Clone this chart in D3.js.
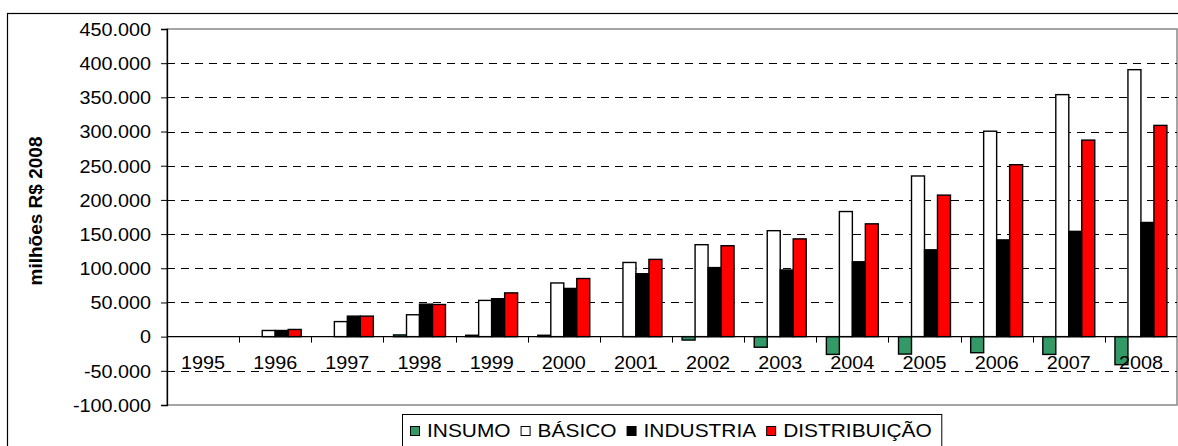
<!DOCTYPE html>
<html>
<head>
<meta charset="utf-8">
<script src="https://cdn.jsdelivr.net/npm/d3@7/dist/d3.min.js"></script>
<style>
  html, body { margin: 0; padding: 0; background: #fff; }
  svg { display: block; font-family: Arial, "Liberation Sans", sans-serif; }
</style>
</head>
<body>
<svg id="chart" width="1178" height="446"></svg>
<script>
// ---- data ----
const years = ["1995","1996","1997","1998","1999","2000","2001","2002","2003","2004","2005","2006","2007","2008"];
const seriesNames = ["INSUMO", "BÁSICO", "INDUSTRIA", "DISTRIBUIÇÃO"];
const insumo       = [0, 0, 0, 2500, 2000, 2000, 0, -5000, -15500, -26000, -25500, -23500, -26000, -41000];
const basico       = [0, 9000, 22000, 32000, 53000, 78500, 108500, 134500, 155000, 183000, 235000, 300500, 354000, 390500];
const industria    = [0, 9000, 30000, 47500, 55500, 70500, 92000, 101000, 97500, 109500, 127000, 141500, 154000, 167000];
const distribuicao = [0, 10500, 30000, 47000, 64000, 85000, 113000, 133000, 143000, 165000, 207000, 251500, 287500, 309000];
const yTicks = [-100000, -50000, 0, 50000, 100000, 150000, 200000, 250000, 300000, 350000, 400000, 450000];
const colors = ["#339966", "#FFFFFF", "#000000", "#FF0000"];

const seriesValues = [insumo, basico, industria, distribuicao];

// ---- layout ----
const svg = d3.select("#chart");
const plot = { left: 167, right: 1177, top: 29, bottom: 405 };
const FS = 18, SX = 1.1; // font size and horizontal stretch of the source image

const fmt = v => d3.format(",")(v).replace(/,/g, ".").replace("−", "-");

const y = d3.scaleLinear().domain([-100000, 450000]).range([plot.bottom, plot.top]);
const x0 = d3.scaleBand().domain(years).range([plot.left, plot.right]).padding(0);
const bw = x0.bandwidth();
const x1 = d3.scaleBand().domain(seriesNames).range([bw * 0.14, bw * 0.86]).padding(0);

// outer chart border
svg.append("rect").attr("x", 7.5).attr("y", 13.5).attr("width", 1200).attr("height", 500)
  .attr("fill", "none").attr("stroke", "#000").attr("stroke-width", 1.2);

// plot area border (gray)
svg.append("rect")
  .attr("x", plot.left).attr("y", plot.top)
  .attr("width", plot.right - plot.left).attr("height", plot.bottom - plot.top)
  .attr("fill", "none").attr("stroke", "#888").attr("stroke-width", 1.5);

// gridlines
const gridTicks = yTicks.filter(t => t !== 0 && t !== 450000 && t !== -100000);
svg.append("g").selectAll("line").data(gridTicks).join("line")
  .attr("x1", plot.left).attr("x2", plot.right)
  .attr("y1", d => Math.round(y(d)) + 0.5).attr("y2", d => Math.round(y(d)) + 0.5)
  .attr("stroke", "#000").attr("stroke-width", 1)
  .attr("stroke-dasharray", "8,6");

// y axis
const yAxis = d3.axisLeft(y).tickValues(yTicks).tickSize(6).tickPadding(10).tickFormat(fmt);
const gy = svg.append("g").attr("transform", `translate(${plot.left},0)`).call(yAxis);
gy.select(".domain").attr("stroke", "#000").attr("stroke-width", 1.3);
gy.selectAll(".tick line").attr("stroke", "#000");
gy.selectAll(".tick text")
  .attr("font-size", FS).attr("fill", "#000")
  .attr("font-family", "Arial, 'Liberation Sans', sans-serif")
  .attr("x", 0).attr("dy", "0.35em")
  .attr("transform", `translate(-16,0) scale(${SX},1)`);

// bars
const groups = svg.append("g").selectAll("g").data(years).join("g")
  .attr("transform", d => `translate(${x0(d)},0)`);
groups.selectAll("rect")
  .data((yr, i) => seriesNames.map((s, k) => ({ s, k, v: seriesValues[k][i] })))
  .join("rect")
  .filter(d => d.v !== 0)
  .attr("x", d => x1(d.s))
  .attr("width", x1.bandwidth())
  .attr("y", d => y(Math.max(0, d.v)))
  .attr("height", d => Math.abs(y(d.v) - y(0)))
  .attr("fill", d => colors[d.k])
  .attr("stroke", "#000").attr("stroke-width", 1.4);

// zero line (category axis)
svg.append("line")
  .attr("x1", plot.left).attr("x2", plot.right)
  .attr("y1", y(0)).attr("y2", y(0))
  .attr("stroke", "#000").attr("stroke-width", 1.3);

// category tick marks at boundaries
svg.append("g").selectAll("line").data(years.slice(1)).join("line")
  .attr("x1", d => Math.round(x0(d)) + 0.5).attr("x2", d => Math.round(x0(d)) + 0.5)
  .attr("y1", y(0)).attr("y2", y(0) + 6)
  .attr("stroke", "#000").attr("stroke-width", 1);

// category labels
svg.append("g").selectAll("text").data(years).join("text")
  .attr("transform", d => `translate(${x0(d) + bw / 2},369) scale(${SX},1)`)
  .attr("text-anchor", "middle")
  .attr("font-size", FS).attr("fill", "#000")
  .text(d => d);

// y axis title
svg.append("text")
  .attr("transform", `translate(42,${(plot.top + plot.bottom) / 2 - 6}) rotate(-90)`)
  .attr("text-anchor", "middle")
  .attr("font-size", 19).attr("font-weight", "bold").attr("fill", "#000")
  .text("milhões R$ 2008");

// legend
const legend = svg.append("g");
const legBox = legend.append("rect")
  .attr("x", 402.5).attr("y", 414.5).attr("height", 40)
  .attr("fill", "#fff").attr("stroke", "#000").attr("stroke-width", 1);
let lx = 410;
seriesNames.forEach((name, k) => {
  legend.append("rect")
    .attr("x", lx + 0.5).attr("y", 426.5).attr("width", 9).attr("height", 9)
    .attr("fill", colors[k]).attr("stroke", "#000").attr("stroke-width", 1);
  const t = legend.append("text")
    .attr("transform", `translate(${lx + 17},437) scale(${SX},1)`)
    .attr("font-size", 19).attr("fill", "#000")
    .text(name);
  const w = t.node().getComputedTextLength() * SX;
  lx += 17 + w + 10;
});
legBox.attr("width", Math.max(lx - 402.5, 537));
</script>
</body>
</html>
